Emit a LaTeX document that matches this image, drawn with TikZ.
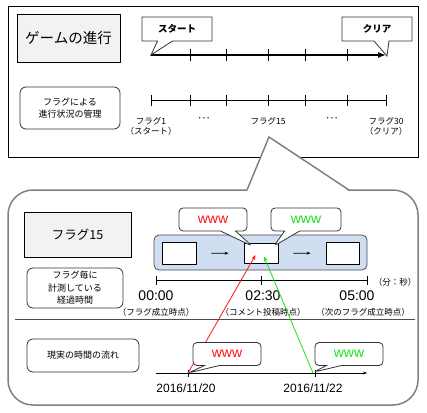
\documentclass[tikz,border=0pt]{standalone}
\usepackage{fontspec}
\setmainfont{Liberation Sans}
\newfontfamily\jp{Noto Sans CJK JP}
\usetikzlibrary{arrows.meta,shapes.callouts,positioning}
\definecolor{flagblue}{RGB}{207,222,240}
\definecolor{wred}{RGB}{255,20,20}
\definecolor{wgreen}{RGB}{30,225,30}

\begin{document}
\begin{tikzpicture}[x=1pt, y=-1pt, line width=0.8pt,
    title/.style={draw, fill=gray!10},
    tag/.style={draw=black!80, rounded corners=6, align=center, font=\jp\fontsize{9}{12.5}\selectfont},
    say/.style={rectangle callout, draw=black!80, fill=white, callout pointer width=15},
    www/.style={say, rounded corners=4, minimum width=68, minimum height=23, font=\fontsize{14}{14}\selectfont},
    small/.style={font=\jp\fontsize{8.5}{10}\selectfont, align=center}]
\useasboundingbox (0,0) rectangle (427,412);

% upper half: the game as a whole
\node[draw, line width=1pt, minimum width=410, minimum height=150] (frame) at (213,82) {};
\node[title, minimum width=103, minimum height=48, font=\jp\fontsize{14.5}{16}\selectfont] (game) at (68.5,38) {ゲームの進行};
\node[tag, minimum width=100, minimum height=42] (manage) at (70,108) {フラグによる\\進行状況の管理};

\coordinate (s) at (151,55);
\coordinate (e) at (386,55);
\draw[-{Latex[length=8pt,width=6pt]}, line width=1.2pt] (s) -- (e);
\foreach \x in {190.5,226,268,305.5,347}
    \draw (\x,49) -- (\x,61);
\node[say, minimum width=70, minimum height=24, callout absolute pointer={(s)}, font=\jp\bfseries\fontsize{9.5}{10}\selectfont] (start) at (177,29) {スタート};
\node[say, minimum width=70, minimum height=24, callout absolute pointer={(387,56)}, font=\jp\bfseries\fontsize{9.5}{10}\selectfont] (clear) at (377,29) {クリア};

\draw (151,100.5) -- (386.5,100.5);
\foreach \x in {151,190.5,226,268,305.5,347,386.5}
    \draw (\x,95) -- (\x,106);
\node[small, below] (f1) at (151,114) {フラグ1\\（スタート）};
\node[small, below] (dots1) at (204,114) {･･･};
\node[small, below] (f15) at (268,114) {フラグ15};
\node[small, below] (dots2) at (332,114) {･･･};
\node[small, below] (f30) at (386,114) {フラグ30\\（クリア）};

% lower half: zoom on flag 15
\node[draw=gray, line width=1.5pt, fill=white, rounded corners=25, minimum width=410, minimum height=215] (zoom) at (213,297.5) {};
\coordinate (p1) at (247,190);
\coordinate (tip) at (269,137);
\coordinate (p2) at (349,190);
\fill[white] ([yshift=-1.5pt]p1) -- (tip) -- ([yshift=-1.5pt]p2) -- cycle;
\draw[gray, line width=1.5pt] (p1) -- (tip) -- (p2);

\node[title, minimum width=107, minimum height=45, font=\jp\fontsize{12.5}{14}\selectfont] (flag) at (77.5,234.5) {フラグ15};
\node[tag, minimum width=96, minimum height=40] (elapsed) at (75,288) {フラグ毎に\\計測している\\経過時間};
\node[tag, minimum width=112, minimum height=33] (real) at (83,355.5) {現実の時間の流れ};

\node[draw=black!70, fill=flagblue, rounded corners=5, minimum width=213, minimum height=35] (band) at (260.5,252.5) {};
\node[draw, fill=white, minimum width=34, minimum height=22] (b1) at (179,253) {};
\node[draw, fill=white, minimum width=34, minimum height=20] (b2) at (261,253.5) {};
\node[draw, fill=white, minimum width=33, minimum height=22] (b3) at (342.5,253) {};
\draw[-{Stealth[length=4pt]}, shorten >=15, shorten <=15] (b1) -- (b2);
\draw[-{Stealth[length=4pt]}, shorten >=15, shorten <=15] (b2) -- (b3);

\node[www, callout absolute pointer={(252,246)}, text=wred] (wtop1) at (213,219.5) {www};
\node[www, minimum width=70, callout absolute pointer={(274,246)}, text=wgreen] (wtop2) at (306,219.5) {www};

\draw (156,280) -- (367,280);
\foreach \x in {156,261,367}
    \draw (\x,275.5) -- (\x,284.5);
\node[small] (unit) at (395,282) {（分：秒）};
\node[font=\fontsize{14}{14}\selectfont] (t0) at (156,296) {00:00};
\node[font=\fontsize{14}{14}\selectfont] (t1) at (263,296) {02:30};
\node[font=\fontsize{14}{14}\selectfont] (t2) at (357,296) {05:00};
\node[small] (n0) at (156,312) {（フラグ成立時点）};
\node[small] (n1) at (263,312) {（コメント投稿時点）};
\node[small] (n2) at (363,312) {（次のフラグ成立時点）};

\draw[black!70] (15,319) -- (415,319);

\coordinate (d1) at (188,373);
\coordinate (d2) at (313,373);
\draw[-{Stealth[length=4pt,width=3pt]}] (156,373) -- (367,373);
\foreach \x in {188,315}
    \draw (\x,369.5) -- (\x,376.5);
\node[font=\fontsize{12}{12}\selectfont] (date1) at (186,388) {2016/11/20};
\node[font=\fontsize{12}{12}\selectfont] (date2) at (313,388) {2016/11/22};

\draw[wred, -{Stealth[length=5pt]}] (d1) -- (255.5,255);
\draw[wgreen, -{Stealth[length=5pt]}] (d2) -- (264,256.5);

\node[www, callout absolute pointer={(d1)}, text=wred] (wbot1) at (227,354) {www};
\node[www, callout absolute pointer={(314,372)}, text=wgreen] (wbot2) at (349,354) {www};

\end{tikzpicture}
\end{document}
